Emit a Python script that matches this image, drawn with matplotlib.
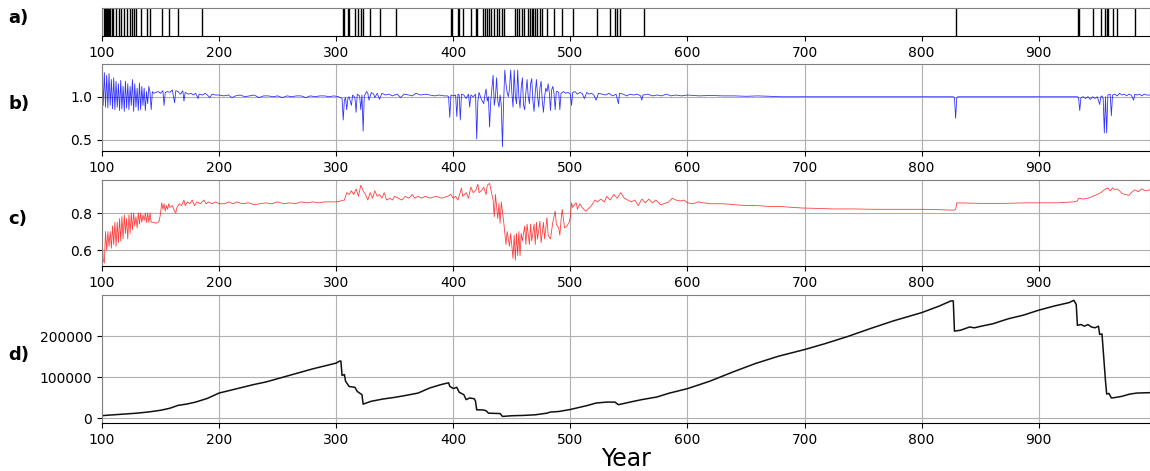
import numpy as np
import matplotlib
matplotlib.use('Agg')
import matplotlib.pyplot as plt

# a) event years
event_years = [101.3, 102.3, 103.3, 104.3, 105.2, 106.2, 107.2, 108.2, 109.5, 112, 114.4,
               116.4, 119, 121.3, 123.6, 125.6, 127.5, 128.9, 133.4, 138.4, 141, 151.5,
               157.4, 164.6, 185.6, 305.6, 306.6, 309.8, 311.1, 316.4, 318.7, 321, 323,
               328.5, 337.7, 350.8, 398, 399.3, 403.9, 405.2, 408.2, 415.4, 419, 420,
               425.2, 426.9, 428.5, 430.5, 432.5, 435.1, 437.4, 439.3, 441.6, 443.6,
               453.1, 454.8, 456.1, 458.7, 460.7, 464, 465.6, 466.9, 468.5, 470.2, 471.5,
               473.8, 475.4, 480, 486, 492.5, 502.6, 522.8, 533.5, 538.4, 539.7, 542.6,
               562.8, 829.1, 933.5, 934, 946.7, 953.2, 956.9, 957.9, 958.8, 963.4, 966.7,
               981.9]

# b) blue series
b_years = list(range(100, 145)) + [
    146, 148, 150, 152, 153, 154, 156, 158, 160, 162, 163, 165, 167, 169, 170, 171, 174, 176,
    178, 180, 182, 183, 186, 188, 190, 192, 194, 197, 200, 204, 208, 211, 214, 218, 222, 226,
    230, 234, 238, 242, 246, 250, 254, 258, 262, 266, 270, 274, 278, 282, 286, 290, 294, 298,
    302, 305, 306, 307, 308, 309, 310, 311, 313, 314, 316, 317, 318, 320, 321, 322, 323, 324,
    326, 327, 328, 330, 332, 333, 335, 337, 339, 342, 345, 348, 352, 355, 358, 362, 365, 368,
    372, 376, 380, 384, 388, 392, 395, 396, 397, 398, 400, 402, 403, 404, 405, 406, 407, 409,
    411, 413, 414, 415, 417, 419, 420, 421, 422, 424, 426, 427, 428, 429, 430, 431, 432, 434,
    435, 436, 437, 438, 439, 440, 441, 442, 443, 444, 445, 446, 447, 448, 449, 450, 451, 452,
    453, 454, 455, 456, 457, 458, 459, 460, 461, 462, 463, 464, 465, 466, 467, 468, 469, 470,
    471, 472, 473, 474, 475, 476, 477, 478, 479, 480, 481, 482, 483, 484, 485, 486, 487, 488,
    489, 490, 491, 492, 494, 496, 498, 500, 501, 502, 504, 506, 508, 510, 512, 514, 516, 518,
    520, 522, 524, 527, 530, 533, 536, 539, 541, 542, 545, 548, 551, 554, 557, 560, 561, 562,
    566, 570, 574, 578, 582, 586, 590, 595, 600, 610, 620, 630, 640, 650, 660, 680, 700, 740,
    780, 827, 828, 829, 830, 831, 850, 880, 933, 934, 935, 936, 938, 940, 942, 944, 946, 948,
    950, 952, 953, 954, 955, 956, 957, 958, 959, 961, 962, 963, 965, 967, 969, 971, 973, 975,
    977, 979, 981, 982, 984, 986, 988, 990, 992, 995]
b_vals = [
    1.30, 0.90, 1.28, 0.88, 1.25, 0.87, 1.27, 0.90, 1.20, 0.86, 1.22, 0.85, 1.18, 0.88, 1.15,
    0.84, 1.19, 0.86, 1.12, 0.83, 1.18, 0.87, 1.15, 0.85, 1.12, 0.90, 1.20, 0.83, 1.15, 0.88,
    1.10, 0.84, 1.16, 0.85, 1.12, 0.90, 1.10, 0.84, 1.06, 0.92, 1.12, 1.05, 0.85, 1.06, 1.04,
    1.05, 1.06, 1.04, 1.07, 0.90, 1.05, 1.06, 1.05, 1.08, 0.93, 1.07, 1.06, 1.03, 1.07, 0.95,
    1.05, 1.03, 1.04, 1.02, 1.04, 0.98, 1.03, 1.02, 1.04, 1.02, 0.99, 1.03, 1.02, 1.02, 1.01,
    1.02, 0.99, 1.01, 1.02, 1.00, 1.01, 1.02, 0.99, 1.01, 1.01, 1.00, 1.01, 0.99, 1.01, 1.00,
    1.01, 1.01, 0.99, 1.01, 1.00, 1.01, 1.01, 1.00, 1.01, 1.00, 0.98, 0.73, 0.96, 0.99, 0.85,
    0.98, 1.00, 0.90, 1.02, 0.99, 0.82, 1.03, 1.01, 0.85, 1.02, 0.60, 1.01, 1.06, 1.04, 0.96,
    1.05, 1.03, 0.99, 1.04, 0.97, 1.04, 1.02, 1.03, 1.01, 1.03, 0.99, 1.03, 1.02, 1.01, 1.04,
    1.02, 1.03, 1.02, 1.01, 1.02, 1.01, 1.01, 1.00, 0.76, 1.02, 1.01, 1.02, 0.77, 1.03, 1.02,
    0.73, 1.03, 1.02, 0.98, 1.03, 0.88, 1.02, 1.00, 1.03, 0.51, 0.95, 1.05, 0.97, 0.92, 1.02,
    1.09, 0.95, 1.00, 0.65, 0.95, 1.25, 0.90, 1.00, 1.22, 0.95, 0.88, 1.02, 0.90, 0.42, 0.95,
    1.31, 1.15, 1.05, 1.00, 1.09, 1.31, 1.05, 0.88, 1.31, 1.00, 0.92, 1.31, 1.00, 0.87, 1.10,
    1.22, 0.90, 0.85, 1.05, 1.20, 1.00, 0.92, 1.15, 1.21, 0.95, 0.83, 1.05, 1.20, 1.00, 0.88,
    1.10, 1.18, 0.95, 0.82, 1.00, 1.10, 1.06, 1.15, 1.05, 0.84, 1.08, 1.12, 1.04, 0.85, 1.06,
    1.06, 1.05, 0.85, 1.04, 1.06, 1.04, 1.05, 1.03, 0.90, 1.05, 1.06, 1.03, 1.05, 1.04, 0.98,
    1.05, 1.03, 1.04, 1.02, 0.96, 1.04, 1.03, 1.02, 1.04, 1.01, 1.03, 0.92, 1.04, 1.03, 1.01,
    1.03, 1.02, 1.03, 1.01, 0.96, 1.02, 1.03, 1.01, 1.02, 1.01, 1.03, 1.01, 1.02, 1.01, 1.02,
    1.01, 1.015, 1.01, 1.01, 1.005, 1.01, 1.00, 1.00, 1.00, 1.00, 1.00, 0.99, 0.75, 0.99, 1.00,
    1.00, 1.00, 1.00, 0.99, 0.84, 0.99, 1.00, 0.98, 1.00, 0.97, 1.00, 0.98, 1.00, 0.91, 1.00,
    1.01, 0.98, 0.58, 1.00, 0.58, 1.02, 1.03, 0.78, 1.02, 1.03, 1.01, 1.04, 1.02, 1.03, 1.01,
    1.03, 1.02, 0.96, 1.03, 1.02, 1.03, 1.01, 1.03, 1.02, 1.02]

# c) red series
c_years = list(range(100, 144)) + [
    146, 148, 149, 150, 151, 152, 153, 154, 155, 156, 157, 158, 160, 162, 163, 164, 166, 168,
    170, 171, 173, 175, 177, 179, 181, 184, 187, 189, 191, 194, 197, 200, 205, 208, 212, 215,
    220, 225, 230, 235, 240, 245, 250, 255, 260, 265, 270, 275, 280, 285, 290, 295, 300, 304,
    307, 309, 311, 313, 315, 317, 319, 321, 323, 325, 327, 329, 331, 333, 335, 337, 339, 341,
    343, 346, 348, 350, 353, 356, 359, 362, 365, 367, 370, 373, 376, 380, 385, 390, 395, 398,
    400, 402, 404, 407, 408, 411, 413, 415, 417, 419, 421, 422, 424, 426, 428, 429, 431, 432,
    434, 435, 436, 438, 439, 440, 441, 443, 444, 445, 446, 448, 449, 451, 452, 453, 454, 455,
    456, 457, 458, 459, 461, 462, 463, 465, 466, 467, 469, 470, 471, 472, 474, 475, 477, 478,
    480, 481, 483, 485, 487, 488, 490, 491, 492, 493, 494, 495, 497, 499, 500, 501, 502, 504,
    505, 506, 508, 510, 513, 515, 518, 521, 523, 526, 529, 531, 534, 537, 540, 543, 546, 549,
    552, 555, 558, 561, 564, 567, 570, 573, 577, 580, 584, 587, 590, 594, 597, 600, 605, 609,
    614, 620, 630, 640, 650, 660, 670, 680, 690, 698, 710, 724, 740, 760, 780, 800, 815, 827,
    829, 830, 850, 870, 890, 900, 915, 930, 933, 934, 938, 942, 946, 950, 953, 955, 957, 959,
    961, 963, 965, 967, 969, 971, 974, 977, 979, 982, 985, 988, 991, 995]
c_vals = [
    0.69, 0.55, 0.53, 0.70, 0.60, 0.70, 0.62, 0.70, 0.61, 0.73, 0.63, 0.75, 0.62, 0.75, 0.64,
    0.77, 0.65, 0.78, 0.66, 0.79, 0.69, 0.77, 0.66, 0.79, 0.69, 0.80, 0.71, 0.80, 0.73, 0.78,
    0.72, 0.80, 0.74, 0.80, 0.75, 0.79, 0.76, 0.80, 0.75, 0.80, 0.75, 0.80, 0.75, 0.75,
    0.745, 0.75, 0.76, 0.80, 0.855, 0.82, 0.85, 0.81, 0.84, 0.82, 0.85, 0.83, 0.84, 0.81,
    0.80, 0.83, 0.85, 0.84, 0.87, 0.84, 0.86, 0.85, 0.87, 0.84, 0.86, 0.85, 0.87, 0.85, 0.86,
    0.85, 0.86, 0.85, 0.85, 0.86, 0.85, 0.86, 0.85, 0.855, 0.845, 0.85, 0.855, 0.85, 0.86,
    0.85, 0.855, 0.85, 0.86, 0.855, 0.86, 0.855, 0.86, 0.86, 0.86, 0.865, 0.87, 0.91, 0.90,
    0.92, 0.90, 0.93, 0.89, 0.95, 0.92, 0.90, 0.87, 0.91, 0.88, 0.92, 0.89, 0.90, 0.88, 0.91,
    0.87, 0.88, 0.87, 0.89, 0.88, 0.87, 0.89, 0.88, 0.90, 0.88, 0.89, 0.88, 0.89, 0.88, 0.89,
    0.88, 0.89, 0.90, 0.88, 0.89, 0.87, 0.935, 0.89, 0.91, 0.88, 0.94, 0.91, 0.92, 0.955, 0.91,
    0.92, 0.94, 0.90, 0.95, 0.96, 0.93, 0.87, 0.78, 0.90, 0.77, 0.85, 0.745, 0.86, 0.755, 0.69,
    0.63, 0.70, 0.62, 0.69, 0.555, 0.68, 0.545, 0.69, 0.57, 0.70, 0.57, 0.69, 0.65, 0.73, 0.63,
    0.74, 0.63, 0.74, 0.65, 0.74, 0.63, 0.75, 0.66, 0.755, 0.64, 0.75, 0.66, 0.775, 0.68, 0.66,
    0.75, 0.81, 0.74, 0.72, 0.68, 0.76, 0.82, 0.77, 0.72, 0.73, 0.75, 0.78, 0.855, 0.83, 0.85,
    0.855, 0.82, 0.85, 0.83, 0.81, 0.82, 0.84, 0.87, 0.86, 0.875, 0.86, 0.89, 0.87, 0.90, 0.88,
    0.91, 0.88, 0.87, 0.86, 0.87, 0.84, 0.875, 0.855, 0.875, 0.855, 0.87, 0.845, 0.85, 0.86,
    0.88, 0.87, 0.865, 0.87, 0.855, 0.85, 0.86, 0.855, 0.85, 0.85, 0.845, 0.84, 0.84, 0.835,
    0.835, 0.83, 0.827, 0.825, 0.822, 0.822, 0.82, 0.82, 0.82, 0.818, 0.815, 0.818, 0.855,
    0.852, 0.852, 0.855, 0.855, 0.855, 0.86, 0.865, 0.88, 0.875, 0.88, 0.89, 0.90, 0.91, 0.92,
    0.93, 0.935, 0.92, 0.935, 0.925, 0.93, 0.92, 0.905, 0.90, 0.895, 0.91, 0.925, 0.915, 0.93,
    0.92, 0.925]

# d) cumulative series
d_years = [100, 110, 120, 130, 140, 150, 158, 165, 172, 180, 190, 200, 210, 220, 230, 240,
           250, 260, 270, 280, 290, 300, 303, 304, 305, 307, 308, 311, 316, 318, 320, 322,
           323, 325, 330, 340, 350, 360, 370, 380, 390, 396, 397, 400, 403, 405, 409, 411,
           414, 418, 419, 420, 425, 428, 430, 440, 442, 450, 460, 470, 480, 483, 490, 500,
           515, 522, 531, 538, 541, 551, 561, 574, 584, 600, 619, 639, 658, 678, 700, 717,
           737, 756, 776, 800, 815, 825, 827, 828, 833, 841, 845, 851, 861, 874, 887, 900,
           913, 926, 930, 932, 933, 936, 939, 942, 945, 948, 951, 952, 954, 957, 958, 960,
           962, 965, 971, 978, 984, 995]
d_vals = [6000, 8000, 10000, 12000, 15000, 19000, 24000, 31000, 34000, 39000, 48000, 61000,
          68000, 75000, 82000, 88000, 96000, 104000, 112000, 120000, 127000, 134000, 139000,
          139000, 104000, 106000, 90000, 77000, 75000, 65000, 61000, 57000, 34000, 36000,
          41000, 46500, 50500, 55500, 61000, 73500, 82000, 86000, 77500, 72000, 75000, 63000,
          57000, 45000, 49000, 47000, 41000, 20000, 20000, 18000, 12000, 11000, 4000, 5700,
          6500, 8000, 12000, 14700, 16000, 21000, 31000, 36700, 39000, 39000, 32600, 39000,
          45000, 51400, 60400, 71800, 89800, 112600, 133000, 151000, 167000, 181000, 199000,
          218000, 237000, 257000, 273000, 285600, 285600, 212000, 214000, 222000, 220000,
          224000, 230000, 242000, 251000, 263000, 273000, 281500, 287000, 277000, 226000,
          228000, 224000, 228000, 222000, 220000, 224000, 204000, 205000, 90000, 58700, 60000,
          49000, 50000, 53000, 58700, 61000, 62000]

fig = plt.figure(figsize=(11.5, 4.71), dpi=100)
left, width = 0.0887, 0.9113
ax_a = fig.add_axes([left, 0.9236, width, 0.0594])
ax_b = fig.add_axes([left, 0.6794, width, 0.1847])
ax_c = fig.add_axes([left, 0.4352, width, 0.1826])
ax_d = fig.add_axes([left, 0.1019, width, 0.2718])

ax_a.vlines(event_years, 0, 1, color='black', lw=1)
ax_a.set_ylim(0, 1)
ax_a.set_yticks([])

ax_b.plot(b_years, b_vals, color='blue', lw=0.6, alpha=0.8)
ax_b.set_ylim(0.37, 1.38)
ax_b.set_yticks([0.5, 1.0])

ax_c.plot(c_years, c_vals, color='red', lw=0.6, alpha=0.75)
ax_c.set_ylim(0.514, 0.978)
ax_c.set_yticks([0.6, 0.8])

ax_d.plot(d_years, d_vals, color='#111111', lw=1.1)
ax_d.set_ylim(-12000, 300000)
ax_d.set_yticks([0, 100000, 200000])

for ax in (ax_a, ax_b, ax_c, ax_d):
    ax.set_xlim(100, 995)
    ax.set_xticks(range(100, 1000, 100))
    for s in ('top', 'left', 'right'):
        ax.spines[s].set_color('#808080')
    if ax is not ax_a:
        ax.grid(True, color='#b0b0b0', lw=0.8)

ax_d.set_xlabel('Year', fontsize=17, labelpad=0)

for lab, ax in zip(['a)', 'b)', 'c)', 'd)'], (ax_a, ax_b, ax_c, ax_d)):
    pos = ax.get_position()
    fig.text(0.007, pos.y0 + pos.height / 2 + 0.008, lab, fontsize=13, fontweight='bold',
             va='center')

fig.savefig('out.png', dpi=100)
